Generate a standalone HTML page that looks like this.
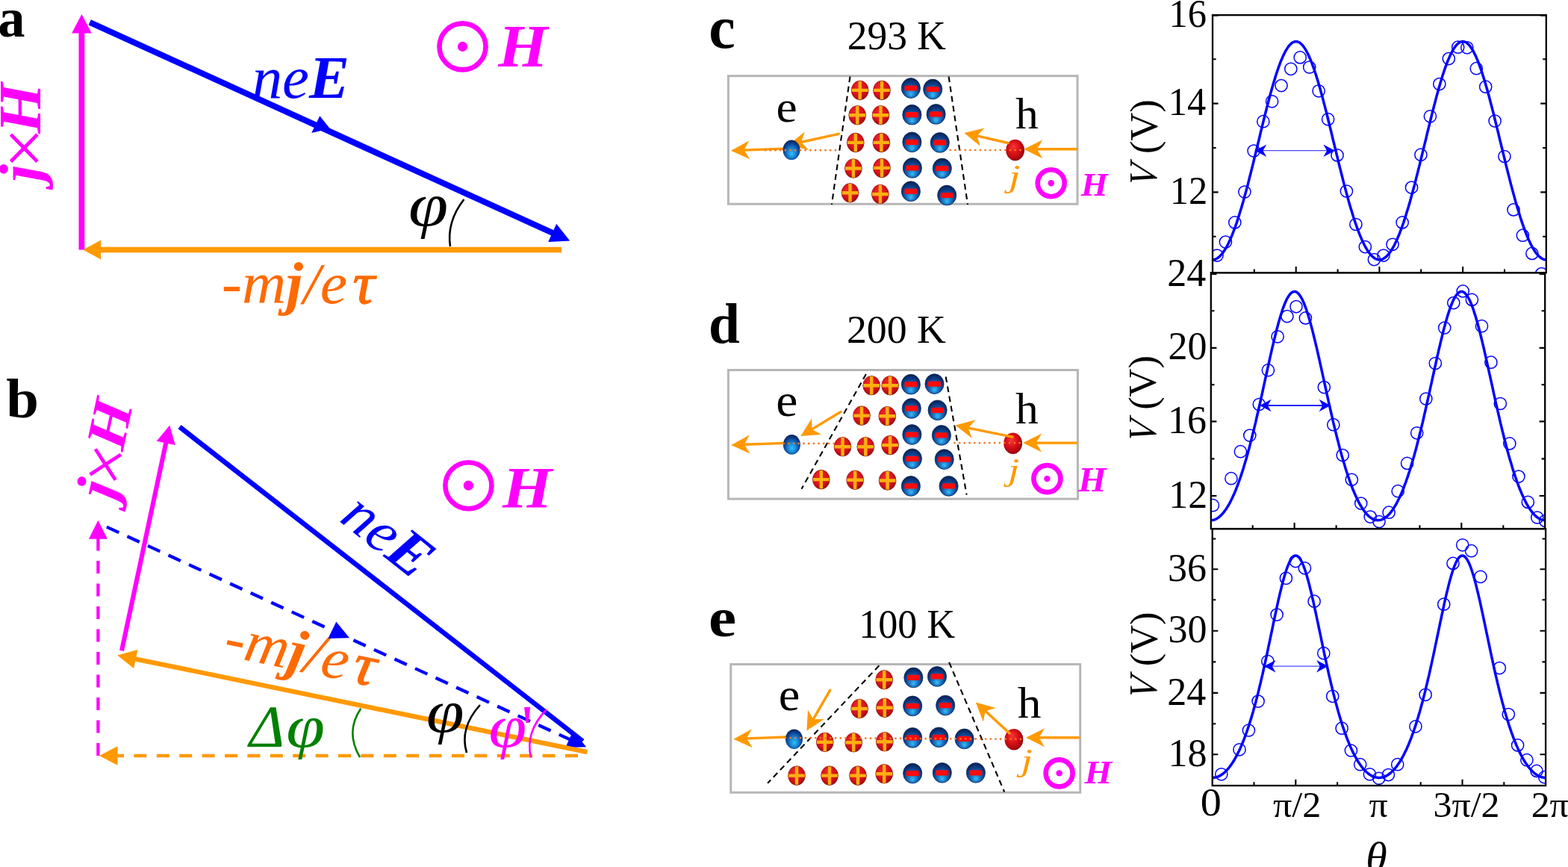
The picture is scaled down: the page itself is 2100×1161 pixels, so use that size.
<!DOCTYPE html>
<html><head><meta charset="utf-8"><title>Figure</title>
<style>html,body{margin:0;padding:0;background:#fff;overflow:hidden}svg{display:block}text{font-family:"Liberation Serif",serif}</style>
</head><body>
<svg width="2100" height="1161" viewBox="0 0 2100 1161">
<rect width="2100" height="1161" fill="#fff"/>
<defs>
<radialGradient id="gr" cx="0.45" cy="0.42" r="0.6" fx="0.4" fy="0.3">
<stop offset="0" stop-color="#ee2a2a"/><stop offset="0.6" stop-color="#dc1420"/><stop offset="0.88" stop-color="#b80c12"/><stop offset="1" stop-color="#8a0808"/></radialGradient>
<radialGradient id="gb" cx="0.5" cy="0.6" r="0.62" fx="0.5" fy="0.82">
<stop offset="0" stop-color="#3cbcf4"/><stop offset="0.3" stop-color="#1c80cc"/><stop offset="0.65" stop-color="#0e4490"/><stop offset="1" stop-color="#071c4c"/></radialGradient>
<radialGradient id="ge" cx="0.5" cy="0.58" r="0.6" fx="0.52" fy="0.7">
<stop offset="0" stop-color="#2cc4ff"/><stop offset="0.4" stop-color="#1a84d4"/><stop offset="0.75" stop-color="#0c4090"/><stop offset="1" stop-color="#071c4c"/></radialGradient>
<radialGradient id="gh" cx="0.45" cy="0.45" r="0.6" fx="0.4" fy="0.32">
<stop offset="0" stop-color="#f83838"/><stop offset="0.5" stop-color="#dc1018"/><stop offset="0.85" stop-color="#a80810"/><stop offset="1" stop-color="#700408"/></radialGradient>
</defs>
<text transform="matrix(0.7253 0 0 0.7417 -2.68 48.86)" font-size="100" fill="#000" font-weight="bold">a</text>
<line x1="109.4" y1="334.5" x2="109.4" y2="43.5" stroke="#ff00ff" stroke-width="7.8"/>
<polygon points="109.4,19.0 122.7,44.5 96.1,44.5" fill="#ff00ff"/>
<line x1="120.2" y1="29.8" x2="740.6" y2="312.2" stroke="#0000ff" stroke-width="8"/>
<polygon points="763.2,322.5 734.2,323.9 745.2,299.7" fill="#0000ff"/>
<polygon points="428.3,155.2 417.2,177.9 441.9,172.2" fill="#0000ff"/>
<line x1="752.0" y1="334.5" x2="134.2" y2="334.5" stroke="#ff9900" stroke-width="7.6"/>
<polygon points="111.2,334.5 135.2,321.5 135.2,347.5" fill="#ff9900"/>
<circle cx="619.5" cy="62.4" r="31" fill="none" stroke="#ff00ff" stroke-width="6.6"/>
<circle cx="619.5" cy="62.4" r="6.6" fill="#ff00ff"/>
<text transform="matrix(0.8519 0 0 0.8000 667.13 88.60)" font-size="100" fill="#ff00ff" font-style="italic" font-weight="bold">H</text>
<text transform="matrix(0.8092 0 0 0.7955 337.67 130.70)" font-size="100" fill="#0000ff" font-style="italic">ne<tspan font-weight="bold">E</tspan></text>
<text transform="matrix(0.9616 0 0 0.8235 547.12 302.01)" font-size="100" fill="#000" font-style="italic">φ</text>
<path d="M621.4,267.0 Q598.0,297.0 603.0,330.0" fill="none" stroke="#000" stroke-width="2.6"/>
<text transform="matrix(0.8197 0 0 0.7845 296.63 405.92)" font-size="100" fill="#ff6a00" font-style="italic">-m<tspan font-weight="bold">j</tspan>/e<tspan dx="9" stroke="#ff6a00" stroke-width="1.6">τ</tspan></text>
<text transform="translate(27.15 143.85) rotate(-90) scale(0.8704 0.8046) translate(-40.00 32.75)" font-size="100" fill="#ff00ff" font-style="italic" font-weight="bold">H</text>
<text transform="translate(31.80 198.15) rotate(-90) scale(0.9753 0.9580) translate(-28.25 33.25)" font-size="100" fill="#ff00ff" >×</text>
<text transform="translate(35.20 237.20) rotate(-90) scale(0.8366 0.7901) translate(-7.50 24.25)" font-size="100" fill="#ff00ff" font-style="italic" font-weight="bold">j</text>
<text transform="matrix(0.7860 0 0 0.7390 8.32 558.76)" font-size="100" fill="#000" font-weight="bold">b</text>
<text transform="translate(404.00 880.00) rotate(11.6) scale(0.8197 0.7845) translate(-128.00 24.25)" font-size="100" fill="#ff6a00" font-style="italic">-m<tspan font-weight="bold">j</tspan>/e<tspan dx="9" stroke="#ff6a00" stroke-width="1.6">τ</tspan></text>
<line x1="163.0" y1="871.4" x2="222.4" y2="592.4" stroke="#ff00ff" stroke-width="6.1"/>
<polygon points="227.3,569.4 234.7,596.0 209.7,590.7" fill="#ff00ff"/>
<line x1="131.4" y1="1012.0" x2="131.4" y2="720.7" stroke="#ff00ff" stroke-width="4.3" stroke-dasharray="17 13.5"/>
<polygon points="131.4,696.7 143.9,721.7 118.9,721.7" fill="#ff00ff"/>
<line x1="142.9" y1="705.6" x2="763.3" y2="990.3" stroke="#0000ff" stroke-width="4.3" stroke-dasharray="18 12.3"/>
<polygon points="785.1,1000.3 757.2,1001.2 767.6,978.5" fill="#0000ff"/>
<polygon points="450.3,832.6 439.4,854.9 468.0,854.3" fill="#0000ff"/>
<line x1="240.5" y1="571.7" x2="780.5" y2="992.5" stroke="#0000ff" stroke-width="6.6"/>
<line x1="786.5" y1="1007.2" x2="180.8" y2="882.3" stroke="#ff9900" stroke-width="6.3"/>
<polygon points="157.1,877.4 184.4,869.9 179.2,895.1" fill="#ff9900"/>
<line x1="774.0" y1="1012.0" x2="156.5" y2="1012.0" stroke="#ff9900" stroke-width="4.3" stroke-dasharray="17 13.4"/>
<polygon points="133.0,1012.0 157.5,999.3 157.5,1024.7" fill="#ff9900"/>
<circle cx="627.4" cy="650.2" r="31" fill="none" stroke="#ff00ff" stroke-width="6.6"/>
<circle cx="627.4" cy="650.2" r="6.6" fill="#ff00ff"/>
<text transform="matrix(0.8531 0 0 0.7817 673.03 678.80)" font-size="100" fill="#ff00ff" font-style="italic" font-weight="bold">H</text>
<text transform="translate(519.60 717.30) rotate(38.5) scale(0.8092 0.7955) translate(-80.00 32.25)" font-size="100" fill="#0000ff" font-style="italic">ne<tspan font-weight="bold">E</tspan></text>
<text transform="translate(354.30 973.95) rotate(0) scale(0.8035 0.7985) translate(-32.75 33.00) skewX(-13)" font-size="100" fill="#008000" >Δ</text>
<text transform="matrix(0.9354 0 0 0.8074 383.19 999.65)" font-size="100" fill="#008000" font-style="italic">φ</text>
<path d="M483.3,948.8 Q462.0,980.0 482.0,1014.0" fill="none" stroke="#008000" stroke-width="2.6"/>
<text transform="matrix(0.9131 0 0 0.8044 571.06 979.51)" font-size="100" fill="#000" font-style="italic">φ</text>
<path d="M642.9,944.0 Q615.0,975.0 625.0,1008.0" fill="none" stroke="#000" stroke-width="2.6"/>
<text transform="matrix(0.9172 0 0 0.8029 654.55 1000.44)" font-size="100" fill="#ff00ff" font-style="italic">φ</text>
<text transform="matrix(0.6400 0 0 0.8936 697.20 1005.03)" font-size="100" fill="#ff00ff" font-weight="bold">'</text>
<path d="M732.0,950.0 Q703.0,980.0 711.0,1014.5" fill="none" stroke="#ff00ff" stroke-width="2.6"/>
<text transform="translate(147.40 567.00) rotate(-78) scale(0.8457 0.7542) translate(-40.00 32.75)" font-size="100" fill="#ff00ff" font-style="italic" font-weight="bold">H</text>
<text transform="translate(141.20 622.00) rotate(-78) scale(0.9383 0.9383) translate(-28.25 33.25)" font-size="100" fill="#ff00ff" >×</text>
<text transform="translate(136.20 661.40) rotate(-78) scale(0.8366 0.7901) translate(-7.50 24.25)" font-size="100" fill="#ff00ff" font-style="italic" font-weight="bold">j</text>
<rect x="975.4" y="101.7" width="467.6" height="171.5" fill="none" stroke="#b6b6b6" stroke-width="3"/>
<line x1="1138.5" y1="102.5" x2="1113.9" y2="273.8" stroke="#000" stroke-width="2.1" stroke-dasharray="7.8 5.4"/>
<line x1="1270.6" y1="102.5" x2="1296.0" y2="273.8" stroke="#000" stroke-width="2.1" stroke-dasharray="7.8 5.4"/>
<line x1="1060.0" y1="198.8" x2="995.5" y2="201.1" stroke="#ff9900" stroke-width="3.4" stroke-linecap="round"/>
<polygon points="979.0,201.7 1003.5,188.3 996.5,201.1 1004.4,213.3" fill="#ff9900"/>
<line x1="1123.3" y1="179.3" x2="1072.1" y2="190.5" stroke="#ff9900" stroke-width="3.4" stroke-linecap="round"/>
<polygon points="1056.0,194.0 1077.8,176.5 1073.1,190.3 1083.1,200.9" fill="#ff9900"/>
<line x1="1442.0" y1="199.8" x2="1387.8" y2="199.8" stroke="#ff9900" stroke-width="3.4" stroke-linecap="round"/>
<polygon points="1371.3,199.8 1396.3,187.3 1388.8,199.8 1396.3,212.3" fill="#ff9900"/>
<ellipse cx="1151.7" cy="120.9" rx="11.4" ry="12.8" fill="url(#gr)" stroke="#8c1410" stroke-width="0.7"/>
<path d="M1140.9,120.9H1162.5M1151.7,108.7V133.1" stroke="#ffb010" stroke-width="4.4" fill="none"/>
<ellipse cx="1181.0" cy="120.9" rx="11.4" ry="12.8" fill="url(#gr)" stroke="#8c1410" stroke-width="0.7"/>
<path d="M1170.2,120.9H1191.8M1181.0,108.7V133.1" stroke="#ffb010" stroke-width="4.4" fill="none"/>
<ellipse cx="1148.2" cy="154.3" rx="11.4" ry="12.8" fill="url(#gr)" stroke="#8c1410" stroke-width="0.7"/>
<path d="M1137.4,154.3H1159.0M1148.2,142.1V166.5" stroke="#ffb010" stroke-width="4.4" fill="none"/>
<ellipse cx="1179.5" cy="154.3" rx="11.4" ry="12.8" fill="url(#gr)" stroke="#8c1410" stroke-width="0.7"/>
<path d="M1168.7,154.3H1190.3M1179.5,142.1V166.5" stroke="#ffb010" stroke-width="4.4" fill="none"/>
<ellipse cx="1145.8" cy="190.9" rx="11.4" ry="12.8" fill="url(#gr)" stroke="#8c1410" stroke-width="0.7"/>
<path d="M1135.0,190.9H1156.6M1145.8,178.7V203.1" stroke="#ffb010" stroke-width="4.4" fill="none"/>
<ellipse cx="1180.4" cy="190.9" rx="11.4" ry="12.8" fill="url(#gr)" stroke="#8c1410" stroke-width="0.7"/>
<path d="M1169.6,190.9H1191.2M1180.4,178.7V203.1" stroke="#ffb010" stroke-width="4.4" fill="none"/>
<ellipse cx="1142.9" cy="225.5" rx="11.4" ry="12.8" fill="url(#gr)" stroke="#8c1410" stroke-width="0.7"/>
<path d="M1132.1,225.5H1153.7M1142.9,213.3V237.7" stroke="#ffb010" stroke-width="4.4" fill="none"/>
<ellipse cx="1181.0" cy="224.9" rx="11.4" ry="12.8" fill="url(#gr)" stroke="#8c1410" stroke-width="0.7"/>
<path d="M1170.2,224.9H1191.8M1181.0,212.7V237.1" stroke="#ffb010" stroke-width="4.4" fill="none"/>
<ellipse cx="1138.5" cy="258.3" rx="11.4" ry="12.8" fill="url(#gr)" stroke="#8c1410" stroke-width="0.7"/>
<path d="M1127.7,258.3H1149.3M1138.5,246.1V270.5" stroke="#ffb010" stroke-width="4.4" fill="none"/>
<ellipse cx="1178.9" cy="260.0" rx="11.4" ry="12.8" fill="url(#gr)" stroke="#8c1410" stroke-width="0.7"/>
<path d="M1168.1,260.0H1189.7M1178.9,247.8V272.2" stroke="#ffb010" stroke-width="4.4" fill="none"/>
<ellipse cx="1219.9" cy="118.0" rx="12.6" ry="13.4" fill="url(#gb)" stroke="#0a2358" stroke-width="0.7"/>
<rect x="1211.4" y="114.4" width="17" height="7.2" rx="1.5" fill="#ff0a0a"/>
<ellipse cx="1249.2" cy="119.5" rx="12.6" ry="13.4" fill="url(#gb)" stroke="#0a2358" stroke-width="0.7"/>
<rect x="1240.7" y="115.9" width="17" height="7.2" rx="1.5" fill="#ff0a0a"/>
<ellipse cx="1221.4" cy="153.7" rx="12.6" ry="13.4" fill="url(#gb)" stroke="#0a2358" stroke-width="0.7"/>
<rect x="1212.9" y="150.1" width="17" height="7.2" rx="1.5" fill="#ff0a0a"/>
<ellipse cx="1253.6" cy="152.9" rx="12.6" ry="13.4" fill="url(#gb)" stroke="#0a2358" stroke-width="0.7"/>
<rect x="1245.1" y="149.3" width="17" height="7.2" rx="1.5" fill="#ff0a0a"/>
<ellipse cx="1221.4" cy="190.3" rx="12.6" ry="13.4" fill="url(#gb)" stroke="#0a2358" stroke-width="0.7"/>
<rect x="1212.9" y="186.7" width="17" height="7.2" rx="1.5" fill="#ff0a0a"/>
<ellipse cx="1258.8" cy="190.9" rx="12.6" ry="13.4" fill="url(#gb)" stroke="#0a2358" stroke-width="0.7"/>
<rect x="1250.3" y="187.3" width="17" height="7.2" rx="1.5" fill="#ff0a0a"/>
<ellipse cx="1221.9" cy="224.9" rx="12.6" ry="13.4" fill="url(#gb)" stroke="#0a2358" stroke-width="0.7"/>
<rect x="1213.4" y="221.3" width="17" height="7.2" rx="1.5" fill="#ff0a0a"/>
<ellipse cx="1261.8" cy="225.5" rx="12.6" ry="13.4" fill="url(#gb)" stroke="#0a2358" stroke-width="0.7"/>
<rect x="1253.3" y="221.9" width="17" height="7.2" rx="1.5" fill="#ff0a0a"/>
<ellipse cx="1219.9" cy="256.2" rx="12.6" ry="13.4" fill="url(#gb)" stroke="#0a2358" stroke-width="0.7"/>
<rect x="1211.4" y="252.6" width="17" height="7.2" rx="1.5" fill="#ff0a0a"/>
<ellipse cx="1268.2" cy="261.5" rx="12.6" ry="13.4" fill="url(#gb)" stroke="#0a2358" stroke-width="0.7"/>
<rect x="1259.7" y="257.9" width="17" height="7.2" rx="1.5" fill="#ff0a0a"/>
<ellipse cx="1060.0" cy="200.8" rx="11.5" ry="13.3" fill="url(#ge)"/>
<ellipse cx="1359.6" cy="201.0" rx="12.4" ry="14.3" fill="url(#gh)"/>
<line x1="1350.0" y1="191.5" x2="1307.4" y2="181.7" stroke="#ff9900" stroke-width="3.4" stroke-linecap="round"/>
<polygon points="1291.3,178.0 1318.5,171.4 1308.4,181.9 1312.9,195.8" fill="#ff9900"/>
<line x1="1025.0" y1="201.2" x2="1124.2" y2="201.2" stroke="#f47820" stroke-width="2.7" stroke-dasharray="0.1 6.6" stroke-linecap="round"/>
<line x1="1272.6" y1="201.0" x2="1370.0" y2="201.0" stroke="#f47820" stroke-width="2.7" stroke-dasharray="0.1 6.6" stroke-linecap="round"/>
<text transform="matrix(0.8000 0 0 0.8042 949.30 64.20)" font-size="100" fill="#000" font-weight="bold">c</text>
<text transform="matrix(0.5346 0 0 0.5537 1134.69 65.85)" font-size="100" fill="#000" >293 K</text>
<text transform="matrix(0.6351 0 0 0.5875 1039.46 162.61)" font-size="100" fill="#000" >e</text>
<text transform="matrix(0.6147 0 0 0.5813 1359.89 172.20)" font-size="100" fill="#000" >h</text>
<text transform="matrix(0.5611 0 0 0.4253 1350.89 250.27)" font-size="100" fill="#ff9900" font-style="italic">j</text>
<circle cx="1407.7" cy="245.2" r="18" fill="none" stroke="#ff00ff" stroke-width="6.6"/>
<circle cx="1407.7" cy="245.2" r="4.2" fill="#ff00ff"/>
<text transform="matrix(0.4630 0 0 0.4351 1447.73 261.50)" font-size="100" fill="#ff00ff" font-style="italic" font-weight="bold">H</text>
<rect x="975.4" y="495.5" width="468.0" height="172.6" fill="none" stroke="#b6b6b6" stroke-width="3"/>
<line x1="1159.9" y1="500.9" x2="1073.5" y2="654.7" stroke="#000" stroke-width="2.1" stroke-dasharray="7.8 5.4"/>
<line x1="1266.7" y1="504.5" x2="1294.6" y2="662.6" stroke="#000" stroke-width="2.1" stroke-dasharray="7.8 5.4"/>
<line x1="1060.0" y1="593.0" x2="995.8" y2="595.3" stroke="#ff9900" stroke-width="3.4" stroke-linecap="round"/>
<polygon points="979.3,595.9 1003.8,582.5 996.8,595.3 1004.7,607.5" fill="#ff9900"/>
<line x1="1126.0" y1="551.5" x2="1086.4" y2="575.4" stroke="#ff9900" stroke-width="3.4" stroke-linecap="round"/>
<polygon points="1072.3,583.9 1087.2,560.3 1087.3,574.9 1100.2,581.7" fill="#ff9900"/>
<line x1="1442.0" y1="593.1" x2="1386.6" y2="593.1" stroke="#ff9900" stroke-width="3.4" stroke-linecap="round"/>
<polygon points="1370.1,593.1 1395.1,580.6 1387.6,593.1 1395.1,605.6" fill="#ff9900"/>
<ellipse cx="1167.2" cy="516.2" rx="11.4" ry="12.8" fill="url(#gr)" stroke="#8c1410" stroke-width="0.7"/>
<path d="M1156.4,516.2H1178.0M1167.2,504.0V528.4" stroke="#ffb010" stroke-width="4.4" fill="none"/>
<ellipse cx="1192.1" cy="516.2" rx="11.4" ry="12.8" fill="url(#gr)" stroke="#8c1410" stroke-width="0.7"/>
<path d="M1181.3,516.2H1202.9M1192.1,504.0V528.4" stroke="#ffb010" stroke-width="4.4" fill="none"/>
<ellipse cx="1154.0" cy="556.6" rx="11.4" ry="12.8" fill="url(#gr)" stroke="#8c1410" stroke-width="0.7"/>
<path d="M1143.2,556.6H1164.8M1154.0,544.4V568.8" stroke="#ffb010" stroke-width="4.4" fill="none"/>
<ellipse cx="1188.3" cy="557.2" rx="11.4" ry="12.8" fill="url(#gr)" stroke="#8c1410" stroke-width="0.7"/>
<path d="M1177.5,557.2H1199.1M1188.3,545.0V569.4" stroke="#ffb010" stroke-width="4.4" fill="none"/>
<ellipse cx="1128.5" cy="598.2" rx="11.4" ry="12.8" fill="url(#gr)" stroke="#8c1410" stroke-width="0.7"/>
<path d="M1117.7,598.2H1139.3M1128.5,586.0V610.4" stroke="#ffb010" stroke-width="4.4" fill="none"/>
<ellipse cx="1159.3" cy="598.2" rx="11.4" ry="12.8" fill="url(#gr)" stroke="#8c1410" stroke-width="0.7"/>
<path d="M1148.5,598.2H1170.1M1159.3,586.0V610.4" stroke="#ffb010" stroke-width="4.4" fill="none"/>
<ellipse cx="1192.1" cy="596.1" rx="11.4" ry="12.8" fill="url(#gr)" stroke="#8c1410" stroke-width="0.7"/>
<path d="M1181.3,596.1H1202.9M1192.1,583.9V608.3" stroke="#ffb010" stroke-width="4.4" fill="none"/>
<ellipse cx="1099.8" cy="642.1" rx="11.4" ry="12.8" fill="url(#gr)" stroke="#8c1410" stroke-width="0.7"/>
<path d="M1089.0,642.1H1110.6M1099.8,629.9V654.3" stroke="#ffb010" stroke-width="4.4" fill="none"/>
<ellipse cx="1145.2" cy="642.7" rx="11.4" ry="12.8" fill="url(#gr)" stroke="#8c1410" stroke-width="0.7"/>
<path d="M1134.4,642.7H1156.0M1145.2,630.5V654.9" stroke="#ffb010" stroke-width="4.4" fill="none"/>
<ellipse cx="1188.6" cy="643.5" rx="11.4" ry="12.8" fill="url(#gr)" stroke="#8c1410" stroke-width="0.7"/>
<path d="M1177.8,643.5H1199.4M1188.6,631.3V655.7" stroke="#ffb010" stroke-width="4.4" fill="none"/>
<ellipse cx="1219.9" cy="514.7" rx="12.6" ry="13.4" fill="url(#gb)" stroke="#0a2358" stroke-width="0.7"/>
<rect x="1211.4" y="511.1" width="17" height="7.2" rx="1.5" fill="#ff0a0a"/>
<ellipse cx="1251.5" cy="514.1" rx="12.6" ry="13.4" fill="url(#gb)" stroke="#0a2358" stroke-width="0.7"/>
<rect x="1243.0" y="510.5" width="17" height="7.2" rx="1.5" fill="#ff0a0a"/>
<ellipse cx="1220.8" cy="546.9" rx="12.6" ry="13.4" fill="url(#gb)" stroke="#0a2358" stroke-width="0.7"/>
<rect x="1212.3" y="543.3" width="17" height="7.2" rx="1.5" fill="#ff0a0a"/>
<ellipse cx="1255.6" cy="549.3" rx="12.6" ry="13.4" fill="url(#gb)" stroke="#0a2358" stroke-width="0.7"/>
<rect x="1247.1" y="545.7" width="17" height="7.2" rx="1.5" fill="#ff0a0a"/>
<ellipse cx="1221.4" cy="582.0" rx="12.6" ry="13.4" fill="url(#gb)" stroke="#0a2358" stroke-width="0.7"/>
<rect x="1212.9" y="578.4" width="17" height="7.2" rx="1.5" fill="#ff0a0a"/>
<ellipse cx="1260.9" cy="582.9" rx="12.6" ry="13.4" fill="url(#gb)" stroke="#0a2358" stroke-width="0.7"/>
<rect x="1252.4" y="579.3" width="17" height="7.2" rx="1.5" fill="#ff0a0a"/>
<ellipse cx="1221.9" cy="614.3" rx="12.6" ry="13.4" fill="url(#gb)" stroke="#0a2358" stroke-width="0.7"/>
<rect x="1213.4" y="610.7" width="17" height="7.2" rx="1.5" fill="#ff0a0a"/>
<ellipse cx="1264.7" cy="615.1" rx="12.6" ry="13.4" fill="url(#gb)" stroke="#0a2358" stroke-width="0.7"/>
<rect x="1256.2" y="611.5" width="17" height="7.2" rx="1.5" fill="#ff0a0a"/>
<ellipse cx="1219.9" cy="650.9" rx="12.6" ry="13.4" fill="url(#gb)" stroke="#0a2358" stroke-width="0.7"/>
<rect x="1211.4" y="647.3" width="17" height="7.2" rx="1.5" fill="#ff0a0a"/>
<ellipse cx="1270.6" cy="650.9" rx="12.6" ry="13.4" fill="url(#gb)" stroke="#0a2358" stroke-width="0.7"/>
<rect x="1262.1" y="647.3" width="17" height="7.2" rx="1.5" fill="#ff0a0a"/>
<ellipse cx="1060.4" cy="595.4" rx="11.5" ry="13.3" fill="url(#ge)"/>
<ellipse cx="1356.6" cy="593.7" rx="12.4" ry="14.3" fill="url(#gh)"/>
<line x1="1356.2" y1="585.2" x2="1295.8" y2="572.8" stroke="#ff9900" stroke-width="3.4" stroke-linecap="round"/>
<polygon points="1279.6,569.5 1306.6,562.3 1296.7,573.0 1301.6,586.8" fill="#ff9900"/>
<line x1="1049.6" y1="593.9" x2="1118.8" y2="593.9" stroke="#f47820" stroke-width="2.7" stroke-dasharray="0.1 6.6" stroke-linecap="round"/>
<line x1="1278.4" y1="593.1" x2="1368.0" y2="593.1" stroke="#f47820" stroke-width="2.7" stroke-dasharray="0.1 6.6" stroke-linecap="round"/>
<text transform="matrix(0.7525 0 0 0.7532 948.99 458.75)" font-size="100" fill="#000" font-weight="bold">d</text>
<text transform="matrix(0.5375 0 0 0.5333 1133.98 459.47)" font-size="100" fill="#000" >200 K</text>
<text transform="matrix(0.6568 0 0 0.6021 1039.17 557.10)" font-size="100" fill="#000" >e</text>
<text transform="matrix(0.6147 0 0 0.5871 1359.89 567.20)" font-size="100" fill="#000" >h</text>
<text transform="matrix(0.5528 0 0 0.4299 1350.00 642.57)" font-size="100" fill="#ff9900" font-style="italic">j</text>
<circle cx="1402.4" cy="641.1" r="18" fill="none" stroke="#ff00ff" stroke-width="6.6"/>
<circle cx="1402.4" cy="641.1" r="4.2" fill="#ff00ff"/>
<text transform="matrix(0.4840 0 0 0.4611 1443.94 657.60)" font-size="100" fill="#ff00ff" font-style="italic" font-weight="bold">H</text>
<rect x="978.8" y="889.5" width="467.9" height="171.7" fill="none" stroke="#b6b6b6" stroke-width="3"/>
<line x1="1177.4" y1="891.3" x2="1028.1" y2="1048.8" stroke="#000" stroke-width="2.1" stroke-dasharray="7.8 5.4"/>
<line x1="1271.1" y1="886.9" x2="1345.2" y2="1060.5" stroke="#000" stroke-width="2.1" stroke-dasharray="7.8 5.4"/>
<line x1="1063.0" y1="986.5" x2="998.9" y2="989.0" stroke="#ff9900" stroke-width="3.4" stroke-linecap="round"/>
<polygon points="982.4,989.7 1006.9,976.2 999.9,989.0 1007.9,1001.2" fill="#ff9900"/>
<line x1="1111.6" y1="924.3" x2="1088.6" y2="964.2" stroke="#ff9900" stroke-width="3.4" stroke-linecap="round"/>
<polygon points="1080.4,978.5 1082.0,950.6 1089.1,963.3 1103.7,963.1" fill="#ff9900"/>
<line x1="1445.0" y1="987.8" x2="1390.5" y2="987.8" stroke="#ff9900" stroke-width="3.4" stroke-linecap="round"/>
<polygon points="1374.0,987.8 1399.0,975.3 1391.5,987.8 1399.0,1000.3" fill="#ff9900"/>
<ellipse cx="1184.2" cy="910.3" rx="11.4" ry="12.8" fill="url(#gr)" stroke="#8c1410" stroke-width="0.7"/>
<path d="M1173.4,910.3H1195.0M1184.2,898.1V922.5" stroke="#ffb010" stroke-width="4.4" fill="none"/>
<ellipse cx="1151.1" cy="949.0" rx="11.4" ry="12.8" fill="url(#gr)" stroke="#8c1410" stroke-width="0.7"/>
<path d="M1140.3,949.0H1161.9M1151.1,936.8V961.2" stroke="#ffb010" stroke-width="4.4" fill="none"/>
<ellipse cx="1184.8" cy="947.8" rx="11.4" ry="12.8" fill="url(#gr)" stroke="#8c1410" stroke-width="0.7"/>
<path d="M1174.0,947.8H1195.6M1184.8,935.6V960.0" stroke="#ffb010" stroke-width="4.4" fill="none"/>
<ellipse cx="1104.8" cy="993.8" rx="11.4" ry="12.8" fill="url(#gr)" stroke="#8c1410" stroke-width="0.7"/>
<path d="M1094.0,993.8H1115.6M1104.8,981.6V1006.0" stroke="#ffb010" stroke-width="4.4" fill="none"/>
<ellipse cx="1143.2" cy="994.3" rx="11.4" ry="12.8" fill="url(#gr)" stroke="#8c1410" stroke-width="0.7"/>
<path d="M1132.4,994.3H1154.0M1143.2,982.1V1006.5" stroke="#ffb010" stroke-width="4.4" fill="none"/>
<ellipse cx="1184.8" cy="993.2" rx="11.4" ry="12.8" fill="url(#gr)" stroke="#8c1410" stroke-width="0.7"/>
<path d="M1174.0,993.2H1195.6M1184.8,981.0V1005.4" stroke="#ffb010" stroke-width="4.4" fill="none"/>
<ellipse cx="1067.0" cy="1038.6" rx="11.4" ry="12.8" fill="url(#gr)" stroke="#8c1410" stroke-width="0.7"/>
<path d="M1056.2,1038.6H1077.8M1067.0,1026.4V1050.8" stroke="#ffb010" stroke-width="4.4" fill="none"/>
<ellipse cx="1111.0" cy="1038.6" rx="11.4" ry="12.8" fill="url(#gr)" stroke="#8c1410" stroke-width="0.7"/>
<path d="M1100.2,1038.6H1121.8M1111.0,1026.4V1050.8" stroke="#ffb010" stroke-width="4.4" fill="none"/>
<ellipse cx="1149.0" cy="1038.6" rx="11.4" ry="12.8" fill="url(#gr)" stroke="#8c1410" stroke-width="0.7"/>
<path d="M1138.2,1038.6H1159.8M1149.0,1026.4V1050.8" stroke="#ffb010" stroke-width="4.4" fill="none"/>
<ellipse cx="1184.2" cy="1036.2" rx="11.4" ry="12.8" fill="url(#gr)" stroke="#8c1410" stroke-width="0.7"/>
<path d="M1173.4,1036.2H1195.0M1184.2,1024.0V1048.4" stroke="#ffb010" stroke-width="4.4" fill="none"/>
<ellipse cx="1223.4" cy="907.4" rx="12.6" ry="13.4" fill="url(#gb)" stroke="#0a2358" stroke-width="0.7"/>
<rect x="1214.9" y="903.8" width="17" height="7.2" rx="1.5" fill="#ff0a0a"/>
<ellipse cx="1255.0" cy="905.9" rx="12.6" ry="13.4" fill="url(#gb)" stroke="#0a2358" stroke-width="0.7"/>
<rect x="1246.5" y="902.3" width="17" height="7.2" rx="1.5" fill="#ff0a0a"/>
<ellipse cx="1222.2" cy="945.4" rx="12.6" ry="13.4" fill="url(#gb)" stroke="#0a2358" stroke-width="0.7"/>
<rect x="1213.7" y="941.8" width="17" height="7.2" rx="1.5" fill="#ff0a0a"/>
<ellipse cx="1266.2" cy="944.6" rx="12.6" ry="13.4" fill="url(#gb)" stroke="#0a2358" stroke-width="0.7"/>
<rect x="1257.7" y="941.0" width="17" height="7.2" rx="1.5" fill="#ff0a0a"/>
<ellipse cx="1222.2" cy="987.9" rx="12.6" ry="13.4" fill="url(#gb)" stroke="#0a2358" stroke-width="0.7"/>
<rect x="1213.7" y="984.3" width="17" height="7.2" rx="1.5" fill="#ff0a0a"/>
<ellipse cx="1257.4" cy="987.3" rx="12.6" ry="13.4" fill="url(#gb)" stroke="#0a2358" stroke-width="0.7"/>
<rect x="1248.9" y="983.7" width="17" height="7.2" rx="1.5" fill="#ff0a0a"/>
<ellipse cx="1291.6" cy="989.4" rx="12.6" ry="13.4" fill="url(#gb)" stroke="#0a2358" stroke-width="0.7"/>
<rect x="1283.1" y="985.8" width="17" height="7.2" rx="1.5" fill="#ff0a0a"/>
<ellipse cx="1222.2" cy="1035.6" rx="12.6" ry="13.4" fill="url(#gb)" stroke="#0a2358" stroke-width="0.7"/>
<rect x="1213.7" y="1032.0" width="17" height="7.2" rx="1.5" fill="#ff0a0a"/>
<ellipse cx="1261.8" cy="1034.8" rx="12.6" ry="13.4" fill="url(#gb)" stroke="#0a2358" stroke-width="0.7"/>
<rect x="1253.3" y="1031.2" width="17" height="7.2" rx="1.5" fill="#ff0a0a"/>
<ellipse cx="1306.9" cy="1034.8" rx="12.6" ry="13.4" fill="url(#gb)" stroke="#0a2358" stroke-width="0.7"/>
<rect x="1298.4" y="1031.2" width="17" height="7.2" rx="1.5" fill="#ff0a0a"/>
<ellipse cx="1063.5" cy="989.7" rx="11.5" ry="13.3" fill="url(#ge)"/>
<ellipse cx="1357.9" cy="990.2" rx="12.4" ry="14.3" fill="url(#gh)"/>
<line x1="1352.1" y1="982.0" x2="1319.0" y2="951.6" stroke="#ff9900" stroke-width="3.4" stroke-linecap="round"/>
<polygon points="1306.8,940.4 1333.7,948.1 1319.7,952.2 1316.8,966.5" fill="#ff9900"/>
<line x1="1052.0" y1="988.0" x2="1370.0" y2="989.8" stroke="#f47820" stroke-width="2.7" stroke-dasharray="0.1 6.6" stroke-linecap="round"/>
<text transform="matrix(0.8364 0 0 0.7500 949.07 851.85)" font-size="100" fill="#000" font-weight="bold">e</text>
<text transform="matrix(0.5215 0 0 0.5437 1150.21 853.66)" font-size="100" fill="#000" >100 K</text>
<text transform="matrix(0.6432 0 0 0.6146 1042.83 951.09)" font-size="100" fill="#000" >e</text>
<text transform="matrix(0.6337 0 0 0.5856 1362.77 960.70)" font-size="100" fill="#000" >h</text>
<text transform="matrix(0.5583 0 0 0.4310 1367.56 1032.45)" font-size="100" fill="#ff9900" font-style="italic">j</text>
<circle cx="1418.6" cy="1035.4" r="18" fill="none" stroke="#ff00ff" stroke-width="6.6"/>
<circle cx="1418.6" cy="1035.4" r="4.2" fill="#ff00ff"/>
<text transform="matrix(0.4704 0 0 0.4443 1452.44 1049.20)" font-size="100" fill="#ff00ff" font-style="italic" font-weight="bold">H</text>
<path d="M1624.0,347.8 L1625.2,347.7 L1626.5,347.5 L1627.7,347.1 L1629.0,346.6 L1630.2,345.9 L1631.4,345.0 L1632.7,344.1 L1633.9,342.9 L1635.2,341.6 L1636.4,340.2 L1637.7,338.6 L1638.9,336.8 L1640.1,335.0 L1641.4,332.9 L1642.6,330.8 L1643.9,328.5 L1645.1,326.0 L1646.3,323.4 L1647.6,320.7 L1648.8,317.9 L1650.1,314.9 L1651.3,311.8 L1652.5,308.5 L1653.8,305.2 L1655.0,301.7 L1656.3,298.1 L1657.5,294.4 L1658.8,290.5 L1660.0,286.6 L1661.2,282.6 L1662.5,278.4 L1663.7,274.2 L1665.0,269.9 L1666.2,265.5 L1667.4,261.0 L1668.7,256.4 L1669.9,251.8 L1671.2,247.1 L1672.4,242.3 L1673.6,237.4 L1674.9,232.5 L1676.1,227.6 L1677.4,222.6 L1678.6,217.6 L1679.8,212.5 L1681.1,207.4 L1682.3,202.3 L1683.6,197.2 L1684.8,192.1 L1686.1,187.0 L1687.3,181.8 L1688.5,176.7 L1689.8,171.6 L1691.0,166.6 L1692.3,161.5 L1693.5,156.5 L1694.7,151.6 L1696.0,146.7 L1697.2,141.9 L1698.5,137.1 L1699.7,132.4 L1700.9,127.8 L1702.2,123.2 L1703.4,118.8 L1704.7,114.5 L1705.9,110.2 L1707.2,106.1 L1708.4,102.1 L1709.6,98.3 L1710.9,94.5 L1712.1,90.9 L1713.4,87.5 L1714.6,84.2 L1715.8,81.0 L1717.1,78.1 L1718.3,75.3 L1719.6,72.6 L1720.8,70.2 L1722.0,67.9 L1723.3,65.8 L1724.5,63.9 L1725.8,62.1 L1727.0,60.6 L1728.3,59.3 L1729.5,58.2 L1730.7,57.2 L1732.0,56.5 L1733.2,56.0 L1734.5,55.7 L1735.7,55.6 L1736.9,55.7 L1738.2,56.0 L1739.4,56.5 L1740.7,57.2 L1741.9,58.2 L1743.1,59.3 L1744.4,60.6 L1745.6,62.1 L1746.9,63.9 L1748.1,65.8 L1749.4,67.9 L1750.6,70.2 L1751.8,72.6 L1753.1,75.3 L1754.3,78.1 L1755.6,81.0 L1756.8,84.2 L1758.0,87.5 L1759.3,90.9 L1760.5,94.5 L1761.8,98.3 L1763.0,102.1 L1764.2,106.1 L1765.5,110.2 L1766.7,114.5 L1768.0,118.8 L1769.2,123.2 L1770.5,127.8 L1771.7,132.4 L1772.9,137.1 L1774.2,141.9 L1775.4,146.7 L1776.7,151.6 L1777.9,156.5 L1779.1,161.5 L1780.4,166.6 L1781.6,171.6 L1782.9,176.7 L1784.1,181.8 L1785.3,187.0 L1786.6,192.1 L1787.8,197.2 L1789.1,202.3 L1790.3,207.4 L1791.6,212.5 L1792.8,217.6 L1794.0,222.6 L1795.3,227.6 L1796.5,232.5 L1797.8,237.4 L1799.0,242.3 L1800.2,247.1 L1801.5,251.8 L1802.7,256.4 L1804.0,261.0 L1805.2,265.5 L1806.4,269.9 L1807.7,274.2 L1808.9,278.4 L1810.2,282.6 L1811.4,286.6 L1812.6,290.5 L1813.9,294.4 L1815.1,298.1 L1816.4,301.7 L1817.6,305.2 L1818.9,308.5 L1820.1,311.8 L1821.3,314.9 L1822.6,317.9 L1823.8,320.7 L1825.1,323.4 L1826.3,326.0 L1827.5,328.5 L1828.8,330.8 L1830.0,332.9 L1831.3,335.0 L1832.5,336.8 L1833.7,338.6 L1835.0,340.2 L1836.2,341.6 L1837.5,342.9 L1838.7,344.1 L1840.0,345.0 L1841.2,345.9 L1842.4,346.6 L1843.7,347.1 L1844.9,347.5 L1846.2,347.7 L1847.4,347.8 L1848.6,347.7 L1849.9,347.5 L1851.1,347.1 L1852.4,346.6 L1853.6,345.9 L1854.8,345.0 L1856.1,344.1 L1857.3,342.9 L1858.6,341.6 L1859.8,340.2 L1861.1,338.6 L1862.3,336.8 L1863.5,335.0 L1864.8,332.9 L1866.0,330.8 L1867.3,328.5 L1868.5,326.0 L1869.7,323.4 L1871.0,320.7 L1872.2,317.9 L1873.5,314.9 L1874.7,311.8 L1875.9,308.5 L1877.2,305.2 L1878.4,301.7 L1879.7,298.1 L1880.9,294.4 L1882.2,290.5 L1883.4,286.6 L1884.6,282.6 L1885.9,278.4 L1887.1,274.2 L1888.4,269.9 L1889.6,265.5 L1890.8,261.0 L1892.1,256.4 L1893.3,251.8 L1894.6,247.1 L1895.8,242.3 L1897.0,237.4 L1898.3,232.5 L1899.5,227.6 L1900.8,222.6 L1902.0,217.6 L1903.2,212.5 L1904.5,207.4 L1905.7,202.3 L1907.0,197.2 L1908.2,192.1 L1909.5,187.0 L1910.7,181.8 L1911.9,176.7 L1913.2,171.6 L1914.4,166.6 L1915.7,161.5 L1916.9,156.5 L1918.1,151.6 L1919.4,146.7 L1920.6,141.9 L1921.9,137.1 L1923.1,132.4 L1924.3,127.8 L1925.6,123.2 L1926.8,118.8 L1928.1,114.5 L1929.3,110.2 L1930.6,106.1 L1931.8,102.1 L1933.0,98.3 L1934.3,94.5 L1935.5,90.9 L1936.8,87.5 L1938.0,84.2 L1939.2,81.0 L1940.5,78.1 L1941.7,75.3 L1943.0,72.6 L1944.2,70.2 L1945.4,67.9 L1946.7,65.8 L1947.9,63.9 L1949.2,62.1 L1950.4,60.6 L1951.7,59.3 L1952.9,58.2 L1954.1,57.2 L1955.4,56.5 L1956.6,56.0 L1957.9,55.7 L1959.1,55.6 L1960.3,55.7 L1961.6,56.0 L1962.8,56.5 L1964.1,57.2 L1965.3,58.2 L1966.5,59.3 L1967.8,60.6 L1969.0,62.1 L1970.3,63.9 L1971.5,65.8 L1972.8,67.9 L1974.0,70.2 L1975.2,72.6 L1976.5,75.3 L1977.7,78.1 L1979.0,81.0 L1980.2,84.2 L1981.4,87.5 L1982.7,90.9 L1983.9,94.5 L1985.2,98.3 L1986.4,102.1 L1987.6,106.1 L1988.9,110.2 L1990.1,114.5 L1991.4,118.8 L1992.6,123.2 L1993.9,127.8 L1995.1,132.4 L1996.3,137.1 L1997.6,141.9 L1998.8,146.7 L2000.1,151.6 L2001.3,156.5 L2002.5,161.5 L2003.8,166.6 L2005.0,171.6 L2006.3,176.7 L2007.5,181.8 L2008.7,187.0 L2010.0,192.1 L2011.2,197.2 L2012.5,202.3 L2013.7,207.4 L2015.0,212.5 L2016.2,217.6 L2017.4,222.6 L2018.7,227.6 L2019.9,232.5 L2021.2,237.4 L2022.4,242.3 L2023.6,247.1 L2024.9,251.8 L2026.1,256.4 L2027.4,261.0 L2028.6,265.5 L2029.8,269.9 L2031.1,274.2 L2032.3,278.4 L2033.6,282.6 L2034.8,286.6 L2036.0,290.5 L2037.3,294.4 L2038.5,298.1 L2039.8,301.7 L2041.0,305.2 L2042.3,308.5 L2043.5,311.8 L2044.7,314.9 L2046.0,317.9 L2047.2,320.7 L2048.5,323.4 L2049.7,326.0 L2050.9,328.5 L2052.2,330.8 L2053.4,332.9 L2054.7,335.0 L2055.9,336.8 L2057.1,338.6 L2058.4,340.2 L2059.6,341.6 L2060.9,342.9 L2062.1,344.1 L2063.4,345.0 L2064.6,345.9 L2065.8,346.6 L2067.1,347.1 L2068.3,347.5 L2069.6,347.7 L2070.8,347.8" fill="none" stroke="#0000ff" stroke-width="3.5" stroke-linejoin="round"/>
<clipPath id="cp20"><rect x="1624.0" y="20.2" width="446.8" height="345.0"/></clipPath><g clip-path="url(#cp20)">
<circle cx="1630.0" cy="342.1" r="8.1" fill="none" stroke="#0000ff" stroke-width="1.5"/>
<circle cx="1641.4" cy="324.1" r="8.1" fill="none" stroke="#0000ff" stroke-width="1.5"/>
<circle cx="1653.8" cy="297.9" r="8.1" fill="none" stroke="#0000ff" stroke-width="1.5"/>
<circle cx="1666.9" cy="257.0" r="8.1" fill="none" stroke="#0000ff" stroke-width="1.5"/>
<circle cx="1679.1" cy="202.0" r="8.1" fill="none" stroke="#0000ff" stroke-width="1.5"/>
<circle cx="1691.8" cy="162.7" r="8.1" fill="none" stroke="#0000ff" stroke-width="1.5"/>
<circle cx="1703.6" cy="135.8" r="8.1" fill="none" stroke="#0000ff" stroke-width="1.5"/>
<circle cx="1716.0" cy="114.6" r="8.1" fill="none" stroke="#0000ff" stroke-width="1.5"/>
<circle cx="1728.8" cy="92.3" r="8.1" fill="none" stroke="#0000ff" stroke-width="1.5"/>
<circle cx="1741.2" cy="76.9" r="8.1" fill="none" stroke="#0000ff" stroke-width="1.5"/>
<circle cx="1753.7" cy="90.0" r="8.1" fill="none" stroke="#0000ff" stroke-width="1.5"/>
<circle cx="1766.1" cy="121.8" r="8.1" fill="none" stroke="#0000ff" stroke-width="1.5"/>
<circle cx="1778.6" cy="159.7" r="8.1" fill="none" stroke="#0000ff" stroke-width="1.5"/>
<circle cx="1791.0" cy="207.9" r="8.1" fill="none" stroke="#0000ff" stroke-width="1.5"/>
<circle cx="1803.4" cy="256.0" r="8.1" fill="none" stroke="#0000ff" stroke-width="1.5"/>
<circle cx="1815.9" cy="300.5" r="8.1" fill="none" stroke="#0000ff" stroke-width="1.5"/>
<circle cx="1828.3" cy="330.6" r="8.1" fill="none" stroke="#0000ff" stroke-width="1.5"/>
<circle cx="1840.4" cy="347.6" r="8.1" fill="none" stroke="#0000ff" stroke-width="1.5"/>
<circle cx="1852.9" cy="342.1" r="8.1" fill="none" stroke="#0000ff" stroke-width="1.5"/>
<circle cx="1865.0" cy="327.3" r="8.1" fill="none" stroke="#0000ff" stroke-width="1.5"/>
<circle cx="1878.1" cy="297.9" r="8.1" fill="none" stroke="#0000ff" stroke-width="1.5"/>
<circle cx="1890.5" cy="251.1" r="8.1" fill="none" stroke="#0000ff" stroke-width="1.5"/>
<circle cx="1902.9" cy="207.2" r="8.1" fill="none" stroke="#0000ff" stroke-width="1.5"/>
<circle cx="1915.4" cy="155.8" r="8.1" fill="none" stroke="#0000ff" stroke-width="1.5"/>
<circle cx="1927.8" cy="112.6" r="8.1" fill="none" stroke="#0000ff" stroke-width="1.5"/>
<circle cx="1940.3" cy="78.6" r="8.1" fill="none" stroke="#0000ff" stroke-width="1.5"/>
<circle cx="1952.7" cy="63.2" r="8.1" fill="none" stroke="#0000ff" stroke-width="1.5"/>
<circle cx="1964.8" cy="63.8" r="8.1" fill="none" stroke="#0000ff" stroke-width="1.5"/>
<circle cx="1977.3" cy="91.7" r="8.1" fill="none" stroke="#0000ff" stroke-width="1.5"/>
<circle cx="1989.7" cy="116.2" r="8.1" fill="none" stroke="#0000ff" stroke-width="1.5"/>
<circle cx="2002.1" cy="162.0" r="8.1" fill="none" stroke="#0000ff" stroke-width="1.5"/>
<circle cx="2014.9" cy="209.5" r="8.1" fill="none" stroke="#0000ff" stroke-width="1.5"/>
<circle cx="2027.0" cy="280.9" r="8.1" fill="none" stroke="#0000ff" stroke-width="1.5"/>
<circle cx="2039.4" cy="315.2" r="8.1" fill="none" stroke="#0000ff" stroke-width="1.5"/>
<circle cx="2051.9" cy="339.4" r="8.1" fill="none" stroke="#0000ff" stroke-width="1.5"/>
<circle cx="2064.6" cy="366.6" r="8.1" fill="none" stroke="#0000ff" stroke-width="1.5"/>
</g>
<line x1="1688.7" y1="201.7" x2="1779.9" y2="201.7" stroke="#4848ff" stroke-width="1.3"/>
<polygon points="1680.7,201.7 1696.2,193.4 1691.5,201.7 1696.2,209.9" fill="#0000ff"/>
<polygon points="1787.9,201.7 1772.4,209.9 1777.1,201.7 1772.4,193.4" fill="#0000ff"/>
<rect x="1624.0" y="20.2" width="446.8" height="345.0" fill="none" stroke="#000" stroke-width="2.3"/>
<path d="M1679.8,365.2v-4.8" stroke="#000" stroke-width="2.1"/>
<path d="M1735.7,365.2v-8.2" stroke="#000" stroke-width="2.1"/>
<path d="M1791.6,365.2v-4.8" stroke="#000" stroke-width="2.1"/>
<path d="M1847.4,365.2v-8.2" stroke="#000" stroke-width="2.1"/>
<path d="M1903.2,365.2v-4.8" stroke="#000" stroke-width="2.1"/>
<path d="M1959.1,365.2v-8.2" stroke="#000" stroke-width="2.1"/>
<path d="M2015.0,365.2v-4.8" stroke="#000" stroke-width="2.1"/>
<path d="M1624.0,20.7h7.6M2070.8,20.7h-7.6" stroke="#000" stroke-width="2.1"/>
<text transform="matrix(0.5050 0 0 0.5320 1565.42 35.99)" font-size="100" fill="#000" >16</text>
<path d="M1624.0,138.6h7.6M2070.8,138.6h-7.6" stroke="#000" stroke-width="2.1"/>
<text transform="matrix(0.5050 0 0 0.5320 1564.66 154.16)" font-size="100" fill="#000" >14</text>
<path d="M1624.0,257.4h7.6M2070.8,257.4h-7.6" stroke="#000" stroke-width="2.1"/>
<text transform="matrix(0.5050 0 0 0.5320 1566.68 272.96)" font-size="100" fill="#000" >12</text>
<path d="M1624.0,79.3h4.6M2070.8,79.3h-4.6" stroke="#000" stroke-width="2.1"/>
<path d="M1624.0,198.0h4.6M2070.8,198.0h-4.6" stroke="#000" stroke-width="2.1"/>
<path d="M1624.0,316.8h4.6M2070.8,316.8h-4.6" stroke="#000" stroke-width="2.1"/>
<text transform="translate(1531.70 228.10) rotate(-90) scale(0.4733 0.5343) translate(-48.25 32.00) skewX(-9)" font-size="100" fill="#000" font-style="italic">V</text>
<text transform="translate(1536.85 169.60) rotate(-90) scale(0.5246 0.5278) translate(-69.50 24.00)" font-size="100" fill="#000" >(V)</text>
<path d="M1621.8,696.7 L1623.0,696.6 L1624.3,696.5 L1625.5,696.2 L1626.8,695.8 L1628.0,695.3 L1629.3,694.7 L1630.5,693.9 L1631.7,693.1 L1633.0,692.1 L1634.2,691.1 L1635.5,689.9 L1636.7,688.6 L1638.0,687.2 L1639.2,685.6 L1640.4,684.0 L1641.7,682.2 L1642.9,680.4 L1644.2,678.4 L1645.4,676.3 L1646.7,674.1 L1647.9,671.7 L1649.1,669.3 L1650.4,666.7 L1651.6,664.0 L1652.9,661.2 L1654.1,658.3 L1655.4,655.3 L1656.6,652.1 L1657.8,648.9 L1659.1,645.5 L1660.3,642.0 L1661.6,638.4 L1662.8,634.6 L1664.1,630.8 L1665.3,626.9 L1666.5,622.8 L1667.8,618.6 L1669.0,614.4 L1670.3,610.0 L1671.5,605.5 L1672.8,600.9 L1674.0,596.2 L1675.2,591.4 L1676.5,586.5 L1677.7,581.5 L1679.0,576.5 L1680.2,571.3 L1681.5,566.1 L1682.7,560.8 L1683.9,555.5 L1685.2,550.0 L1686.4,544.6 L1687.7,539.0 L1688.9,533.4 L1690.2,527.8 L1691.4,522.2 L1692.6,516.5 L1693.9,510.9 L1695.1,505.2 L1696.4,499.5 L1697.6,493.9 L1698.9,488.2 L1700.1,482.6 L1701.3,477.1 L1702.6,471.6 L1703.8,466.2 L1705.1,460.9 L1706.3,455.7 L1707.6,450.6 L1708.8,445.6 L1710.0,440.8 L1711.3,436.1 L1712.5,431.5 L1713.8,427.2 L1715.0,423.0 L1716.3,419.1 L1717.5,415.3 L1718.7,411.8 L1720.0,408.5 L1721.2,405.4 L1722.5,402.6 L1723.7,400.1 L1725.0,397.9 L1726.2,395.9 L1727.4,394.2 L1728.7,392.9 L1729.9,391.8 L1731.2,391.0 L1732.4,390.6 L1733.6,390.4 L1734.9,390.6 L1736.1,391.0 L1737.4,391.8 L1738.6,392.9 L1739.9,394.2 L1741.1,395.9 L1742.3,397.9 L1743.6,400.1 L1744.8,402.6 L1746.1,405.4 L1747.3,408.5 L1748.6,411.8 L1749.8,415.3 L1751.0,419.1 L1752.3,423.0 L1753.5,427.2 L1754.8,431.5 L1756.0,436.1 L1757.3,440.8 L1758.5,445.6 L1759.7,450.6 L1761.0,455.7 L1762.2,460.9 L1763.5,466.2 L1764.7,471.6 L1766.0,477.1 L1767.2,482.6 L1768.4,488.2 L1769.7,493.9 L1770.9,499.5 L1772.2,505.2 L1773.4,510.9 L1774.7,516.5 L1775.9,522.2 L1777.1,527.8 L1778.4,533.4 L1779.6,539.0 L1780.9,544.6 L1782.1,550.0 L1783.4,555.5 L1784.6,560.8 L1785.8,566.1 L1787.1,571.3 L1788.3,576.5 L1789.6,581.5 L1790.8,586.5 L1792.1,591.4 L1793.3,596.2 L1794.5,600.9 L1795.8,605.5 L1797.0,610.0 L1798.3,614.4 L1799.5,618.6 L1800.8,622.8 L1802.0,626.9 L1803.2,630.8 L1804.5,634.6 L1805.7,638.4 L1807.0,642.0 L1808.2,645.5 L1809.5,648.9 L1810.7,652.1 L1811.9,655.3 L1813.2,658.3 L1814.4,661.2 L1815.7,664.0 L1816.9,666.7 L1818.2,669.3 L1819.4,671.7 L1820.6,674.1 L1821.9,676.3 L1823.1,678.4 L1824.4,680.4 L1825.6,682.2 L1826.9,684.0 L1828.1,685.6 L1829.3,687.2 L1830.6,688.6 L1831.8,689.9 L1833.1,691.1 L1834.3,692.1 L1835.6,693.1 L1836.8,693.9 L1838.0,694.7 L1839.3,695.3 L1840.5,695.8 L1841.8,696.2 L1843.0,696.5 L1844.3,696.6 L1845.5,696.7 L1846.7,696.6 L1848.0,696.5 L1849.2,696.2 L1850.5,695.8 L1851.7,695.3 L1853.0,694.7 L1854.2,693.9 L1855.4,693.1 L1856.7,692.1 L1857.9,691.1 L1859.2,689.9 L1860.4,688.6 L1861.7,687.2 L1862.9,685.6 L1864.1,684.0 L1865.4,682.2 L1866.6,680.4 L1867.9,678.4 L1869.1,676.3 L1870.4,674.1 L1871.6,671.7 L1872.8,669.3 L1874.1,666.7 L1875.3,664.0 L1876.6,661.2 L1877.8,658.3 L1879.1,655.3 L1880.3,652.1 L1881.5,648.9 L1882.8,645.5 L1884.0,642.0 L1885.3,638.4 L1886.5,634.6 L1887.8,630.8 L1889.0,626.9 L1890.2,622.8 L1891.5,618.6 L1892.7,614.4 L1894.0,610.0 L1895.2,605.5 L1896.5,600.9 L1897.7,596.2 L1898.9,591.4 L1900.2,586.5 L1901.4,581.5 L1902.7,576.5 L1903.9,571.3 L1905.2,566.1 L1906.4,560.8 L1907.6,555.5 L1908.9,550.0 L1910.1,544.6 L1911.4,539.0 L1912.6,533.4 L1913.9,527.8 L1915.1,522.2 L1916.3,516.5 L1917.6,510.9 L1918.8,505.2 L1920.1,499.5 L1921.3,493.9 L1922.6,488.2 L1923.8,482.6 L1925.0,477.1 L1926.3,471.6 L1927.5,466.2 L1928.8,460.9 L1930.0,455.7 L1931.3,450.6 L1932.5,445.6 L1933.7,440.8 L1935.0,436.1 L1936.2,431.5 L1937.5,427.2 L1938.7,423.0 L1940.0,419.1 L1941.2,415.3 L1942.4,411.8 L1943.7,408.5 L1944.9,405.4 L1946.2,402.6 L1947.4,400.1 L1948.7,397.9 L1949.9,395.9 L1951.1,394.2 L1952.4,392.9 L1953.6,391.8 L1954.9,391.0 L1956.1,390.6 L1957.3,390.4 L1958.6,390.6 L1959.8,391.0 L1961.1,391.8 L1962.3,392.9 L1963.6,394.2 L1964.8,395.9 L1966.0,397.9 L1967.3,400.1 L1968.5,402.6 L1969.8,405.4 L1971.0,408.5 L1972.3,411.8 L1973.5,415.3 L1974.7,419.1 L1976.0,423.0 L1977.2,427.2 L1978.5,431.5 L1979.7,436.1 L1981.0,440.8 L1982.2,445.6 L1983.4,450.6 L1984.7,455.7 L1985.9,460.9 L1987.2,466.2 L1988.4,471.6 L1989.7,477.1 L1990.9,482.6 L1992.1,488.2 L1993.4,493.9 L1994.6,499.5 L1995.9,505.2 L1997.1,510.9 L1998.4,516.5 L1999.6,522.2 L2000.8,527.8 L2002.1,533.4 L2003.3,539.0 L2004.6,544.6 L2005.8,550.0 L2007.1,555.5 L2008.3,560.8 L2009.5,566.1 L2010.8,571.3 L2012.0,576.5 L2013.3,581.5 L2014.5,586.5 L2015.8,591.4 L2017.0,596.2 L2018.2,600.9 L2019.5,605.5 L2020.7,610.0 L2022.0,614.4 L2023.2,618.6 L2024.5,622.8 L2025.7,626.9 L2026.9,630.8 L2028.2,634.6 L2029.4,638.4 L2030.7,642.0 L2031.9,645.5 L2033.2,648.9 L2034.4,652.1 L2035.6,655.3 L2036.9,658.3 L2038.1,661.2 L2039.4,664.0 L2040.6,666.7 L2041.9,669.3 L2043.1,671.7 L2044.3,674.1 L2045.6,676.3 L2046.8,678.4 L2048.1,680.4 L2049.3,682.2 L2050.6,684.0 L2051.8,685.6 L2053.0,687.2 L2054.3,688.6 L2055.5,689.9 L2056.8,691.1 L2058.0,692.1 L2059.3,693.1 L2060.5,693.9 L2061.7,694.7 L2063.0,695.3 L2064.2,695.8 L2065.5,696.2 L2066.7,696.5 L2068.0,696.6 L2069.2,696.7" fill="none" stroke="#0000ff" stroke-width="3.5" stroke-linejoin="round"/>
<clipPath id="cp365"><rect x="1621.8" y="365.2" width="447.4" height="342.9"/></clipPath><g clip-path="url(#cp365)">
<circle cx="1624.4" cy="676.7" r="8.1" fill="none" stroke="#0000ff" stroke-width="1.5"/>
<circle cx="1648.9" cy="640.7" r="8.1" fill="none" stroke="#0000ff" stroke-width="1.5"/>
<circle cx="1661.4" cy="604.7" r="8.1" fill="none" stroke="#0000ff" stroke-width="1.5"/>
<circle cx="1673.8" cy="583.1" r="8.1" fill="none" stroke="#0000ff" stroke-width="1.5"/>
<circle cx="1686.3" cy="541.5" r="8.1" fill="none" stroke="#0000ff" stroke-width="1.5"/>
<circle cx="1698.4" cy="495.7" r="8.1" fill="none" stroke="#0000ff" stroke-width="1.5"/>
<circle cx="1711.1" cy="450.8" r="8.1" fill="none" stroke="#0000ff" stroke-width="1.5"/>
<circle cx="1723.9" cy="423.6" r="8.1" fill="none" stroke="#0000ff" stroke-width="1.5"/>
<circle cx="1736.0" cy="410.6" r="8.1" fill="none" stroke="#0000ff" stroke-width="1.5"/>
<circle cx="1748.4" cy="425.9" r="8.1" fill="none" stroke="#0000ff" stroke-width="1.5"/>
<circle cx="1773.3" cy="518.6" r="8.1" fill="none" stroke="#0000ff" stroke-width="1.5"/>
<circle cx="1785.8" cy="568.7" r="8.1" fill="none" stroke="#0000ff" stroke-width="1.5"/>
<circle cx="1798.2" cy="609.6" r="8.1" fill="none" stroke="#0000ff" stroke-width="1.5"/>
<circle cx="1810.3" cy="642.3" r="8.1" fill="none" stroke="#0000ff" stroke-width="1.5"/>
<circle cx="1822.7" cy="674.1" r="8.1" fill="none" stroke="#0000ff" stroke-width="1.5"/>
<circle cx="1835.2" cy="692.1" r="8.1" fill="none" stroke="#0000ff" stroke-width="1.5"/>
<circle cx="1847.0" cy="698.6" r="8.1" fill="none" stroke="#0000ff" stroke-width="1.5"/>
<circle cx="1860.1" cy="686.2" r="8.1" fill="none" stroke="#0000ff" stroke-width="1.5"/>
<circle cx="1872.2" cy="657.7" r="8.1" fill="none" stroke="#0000ff" stroke-width="1.5"/>
<circle cx="1884.6" cy="620.4" r="8.1" fill="none" stroke="#0000ff" stroke-width="1.5"/>
<circle cx="1897.7" cy="579.8" r="8.1" fill="none" stroke="#0000ff" stroke-width="1.5"/>
<circle cx="1909.8" cy="534.0" r="8.1" fill="none" stroke="#0000ff" stroke-width="1.5"/>
<circle cx="1922.3" cy="486.5" r="8.1" fill="none" stroke="#0000ff" stroke-width="1.5"/>
<circle cx="1934.7" cy="439.0" r="8.1" fill="none" stroke="#0000ff" stroke-width="1.5"/>
<circle cx="1946.8" cy="405.6" r="8.1" fill="none" stroke="#0000ff" stroke-width="1.5"/>
<circle cx="1959.2" cy="389.9" r="8.1" fill="none" stroke="#0000ff" stroke-width="1.5"/>
<circle cx="1971.4" cy="401.4" r="8.1" fill="none" stroke="#0000ff" stroke-width="1.5"/>
<circle cx="1984.5" cy="436.7" r="8.1" fill="none" stroke="#0000ff" stroke-width="1.5"/>
<circle cx="1996.9" cy="485.2" r="8.1" fill="none" stroke="#0000ff" stroke-width="1.5"/>
<circle cx="2009.3" cy="540.5" r="8.1" fill="none" stroke="#0000ff" stroke-width="1.5"/>
<circle cx="2021.8" cy="593.9" r="8.1" fill="none" stroke="#0000ff" stroke-width="1.5"/>
<circle cx="2033.9" cy="638.1" r="8.1" fill="none" stroke="#0000ff" stroke-width="1.5"/>
<circle cx="2046.3" cy="672.4" r="8.1" fill="none" stroke="#0000ff" stroke-width="1.5"/>
<circle cx="2058.8" cy="693.0" r="8.1" fill="none" stroke="#0000ff" stroke-width="1.5"/>
<circle cx="2069.6" cy="697.6" r="8.1" fill="none" stroke="#0000ff" stroke-width="1.5"/>
</g>
<line x1="1695.1" y1="543.0" x2="1774.1" y2="543.0" stroke="#1414ff" stroke-width="1.8"/>
<polygon points="1687.1,543.0 1702.6,534.8 1697.9,543.0 1702.6,551.2" fill="#0000ff"/>
<polygon points="1782.1,543.0 1766.6,551.2 1771.2,543.0 1766.6,534.8" fill="#0000ff"/>
<rect x="1621.8" y="365.2" width="447.4" height="342.9" fill="none" stroke="#000" stroke-width="2.3"/>
<path d="M1677.7,708.1v-4.8" stroke="#000" stroke-width="2.1"/>
<path d="M1733.6,708.1v-8.2" stroke="#000" stroke-width="2.1"/>
<path d="M1789.6,708.1v-4.8" stroke="#000" stroke-width="2.1"/>
<path d="M1845.5,708.1v-2.4" stroke="#000" stroke-width="2.1"/>
<path d="M1901.4,708.1v-4.8" stroke="#000" stroke-width="2.1"/>
<path d="M1957.3,708.1v-8.2" stroke="#000" stroke-width="2.1"/>
<path d="M2013.3,708.1v-4.8" stroke="#000" stroke-width="2.1"/>
<path d="M1621.8,366.9h7.6M2069.2,366.9h-7.6" stroke="#000" stroke-width="2.1"/>
<text transform="matrix(0.5200 0 0 0.5350 1563.18 382.55)" font-size="100" fill="#000" >24</text>
<path d="M1621.8,465.9h7.6M2069.2,465.9h-7.6" stroke="#000" stroke-width="2.1"/>
<text transform="matrix(0.5200 0 0 0.5350 1564.48 481.42)" font-size="100" fill="#000" >20</text>
<path d="M1621.8,564.4h7.6M2069.2,564.4h-7.6" stroke="#000" stroke-width="2.1"/>
<text transform="matrix(0.5200 0 0 0.5350 1563.96 579.79)" font-size="100" fill="#000" >16</text>
<path d="M1621.8,664.0h7.6M2069.2,664.0h-7.6" stroke="#000" stroke-width="2.1"/>
<text transform="matrix(0.5200 0 0 0.5350 1565.26 679.65)" font-size="100" fill="#000" >12</text>
<path d="M1621.8,416.2h4.6M2069.2,416.2h-4.6" stroke="#000" stroke-width="2.1"/>
<path d="M1621.8,515.1h4.6M2069.2,515.1h-4.6" stroke="#000" stroke-width="2.1"/>
<path d="M1621.8,614.4h4.6M2069.2,614.4h-4.6" stroke="#000" stroke-width="2.1"/>
<text transform="translate(1530.60 570.90) rotate(-90) scale(0.4733 0.5343) translate(-48.25 32.00) skewX(-9)" font-size="100" fill="#000" font-style="italic">V</text>
<text transform="translate(1535.75 512.40) rotate(-90) scale(0.5246 0.5278) translate(-69.50 24.00)" font-size="100" fill="#000" >(V)</text>
<path d="M1623.7,1041.5 L1624.9,1041.5 L1626.2,1041.3 L1627.4,1041.1 L1628.7,1040.8 L1629.9,1040.5 L1631.1,1040.0 L1632.4,1039.5 L1633.6,1038.9 L1634.9,1038.1 L1636.1,1037.4 L1637.3,1036.5 L1638.6,1035.5 L1639.8,1034.5 L1641.1,1033.3 L1642.3,1032.1 L1643.5,1030.8 L1644.8,1029.4 L1646.0,1027.9 L1647.3,1026.3 L1648.5,1024.6 L1649.7,1022.8 L1651.0,1021.0 L1652.2,1019.0 L1653.5,1016.9 L1654.7,1014.7 L1655.9,1012.5 L1657.2,1010.1 L1658.4,1007.6 L1659.7,1005.0 L1660.9,1002.4 L1662.1,999.6 L1663.4,996.7 L1664.6,993.6 L1665.9,990.5 L1667.1,987.3 L1668.3,983.9 L1669.6,980.5 L1670.8,976.9 L1672.1,973.2 L1673.3,969.4 L1674.5,965.4 L1675.8,961.4 L1677.0,957.2 L1678.3,952.9 L1679.5,948.5 L1680.7,944.0 L1682.0,939.4 L1683.2,934.6 L1684.5,929.8 L1685.7,924.8 L1686.9,919.7 L1688.2,914.5 L1689.4,909.2 L1690.7,903.9 L1691.9,898.4 L1693.1,892.8 L1694.4,887.2 L1695.6,881.5 L1696.9,875.7 L1698.1,869.9 L1699.3,864.0 L1700.6,858.1 L1701.8,852.1 L1703.1,846.2 L1704.3,840.3 L1705.5,834.3 L1706.8,828.5 L1708.0,822.6 L1709.3,816.8 L1710.5,811.1 L1711.7,805.5 L1713.0,800.1 L1714.2,794.7 L1715.5,789.6 L1716.7,784.6 L1717.9,779.8 L1719.2,775.2 L1720.4,770.9 L1721.7,766.8 L1722.9,763.0 L1724.1,759.6 L1725.4,756.4 L1726.6,753.6 L1727.9,751.1 L1729.1,748.9 L1730.3,747.2 L1731.6,745.8 L1732.8,744.8 L1734.1,744.2 L1735.3,744.0 L1736.5,744.2 L1737.8,744.8 L1739.0,745.8 L1740.3,747.2 L1741.5,748.9 L1742.7,751.1 L1744.0,753.6 L1745.2,756.4 L1746.5,759.6 L1747.7,763.0 L1748.9,766.8 L1750.2,770.9 L1751.4,775.2 L1752.7,779.8 L1753.9,784.6 L1755.1,789.6 L1756.4,794.7 L1757.6,800.1 L1758.9,805.5 L1760.1,811.1 L1761.3,816.8 L1762.6,822.6 L1763.8,828.5 L1765.1,834.3 L1766.3,840.3 L1767.5,846.2 L1768.8,852.1 L1770.0,858.1 L1771.3,864.0 L1772.5,869.9 L1773.7,875.7 L1775.0,881.5 L1776.2,887.2 L1777.5,892.8 L1778.7,898.4 L1779.9,903.9 L1781.2,909.2 L1782.4,914.5 L1783.7,919.7 L1784.9,924.8 L1786.1,929.8 L1787.4,934.6 L1788.6,939.4 L1789.9,944.0 L1791.1,948.5 L1792.3,952.9 L1793.6,957.2 L1794.8,961.4 L1796.1,965.4 L1797.3,969.4 L1798.5,973.2 L1799.8,976.9 L1801.0,980.5 L1802.3,983.9 L1803.5,987.3 L1804.7,990.5 L1806.0,993.6 L1807.2,996.7 L1808.5,999.6 L1809.7,1002.4 L1810.9,1005.0 L1812.2,1007.6 L1813.4,1010.1 L1814.7,1012.5 L1815.9,1014.7 L1817.1,1016.9 L1818.4,1019.0 L1819.6,1021.0 L1820.9,1022.8 L1822.1,1024.6 L1823.3,1026.3 L1824.6,1027.9 L1825.8,1029.4 L1827.1,1030.8 L1828.3,1032.1 L1829.5,1033.3 L1830.8,1034.5 L1832.0,1035.5 L1833.3,1036.5 L1834.5,1037.4 L1835.7,1038.1 L1837.0,1038.9 L1838.2,1039.5 L1839.5,1040.0 L1840.7,1040.5 L1841.9,1040.8 L1843.2,1041.1 L1844.4,1041.3 L1845.7,1041.5 L1846.9,1041.5 L1848.1,1041.5 L1849.4,1041.3 L1850.6,1041.1 L1851.9,1040.8 L1853.1,1040.5 L1854.3,1040.0 L1855.6,1039.5 L1856.8,1038.9 L1858.1,1038.1 L1859.3,1037.4 L1860.5,1036.5 L1861.8,1035.5 L1863.0,1034.5 L1864.3,1033.3 L1865.5,1032.1 L1866.7,1030.8 L1868.0,1029.4 L1869.2,1027.9 L1870.5,1026.3 L1871.7,1024.6 L1872.9,1022.8 L1874.2,1021.0 L1875.4,1019.0 L1876.7,1016.9 L1877.9,1014.7 L1879.1,1012.5 L1880.4,1010.1 L1881.6,1007.6 L1882.9,1005.0 L1884.1,1002.4 L1885.3,999.6 L1886.6,996.7 L1887.8,993.6 L1889.1,990.5 L1890.3,987.3 L1891.5,983.9 L1892.8,980.5 L1894.0,976.9 L1895.3,973.2 L1896.5,969.4 L1897.7,965.4 L1899.0,961.4 L1900.2,957.2 L1901.5,952.9 L1902.7,948.5 L1903.9,944.0 L1905.2,939.4 L1906.4,934.6 L1907.7,929.8 L1908.9,924.8 L1910.1,919.7 L1911.4,914.5 L1912.6,909.2 L1913.9,903.9 L1915.1,898.4 L1916.3,892.8 L1917.6,887.2 L1918.8,881.5 L1920.1,875.7 L1921.3,869.9 L1922.5,864.0 L1923.8,858.1 L1925.0,852.1 L1926.3,846.2 L1927.5,840.3 L1928.7,834.3 L1930.0,828.5 L1931.2,822.6 L1932.5,816.8 L1933.7,811.1 L1934.9,805.5 L1936.2,800.1 L1937.4,794.7 L1938.7,789.6 L1939.9,784.6 L1941.1,779.8 L1942.4,775.2 L1943.6,770.9 L1944.9,766.8 L1946.1,763.0 L1947.3,759.6 L1948.6,756.4 L1949.8,753.6 L1951.1,751.1 L1952.3,748.9 L1953.5,747.2 L1954.8,745.8 L1956.0,744.8 L1957.3,744.2 L1958.5,744.0 L1959.7,744.2 L1961.0,744.8 L1962.2,745.8 L1963.5,747.2 L1964.7,748.9 L1965.9,751.1 L1967.2,753.6 L1968.4,756.4 L1969.7,759.6 L1970.9,763.0 L1972.1,766.8 L1973.4,770.9 L1974.6,775.2 L1975.9,779.8 L1977.1,784.6 L1978.3,789.6 L1979.6,794.7 L1980.8,800.1 L1982.1,805.5 L1983.3,811.1 L1984.5,816.8 L1985.8,822.6 L1987.0,828.5 L1988.3,834.3 L1989.5,840.3 L1990.7,846.2 L1992.0,852.1 L1993.2,858.1 L1994.5,864.0 L1995.7,869.9 L1996.9,875.7 L1998.2,881.5 L1999.4,887.2 L2000.7,892.8 L2001.9,898.4 L2003.1,903.9 L2004.4,909.2 L2005.6,914.5 L2006.9,919.7 L2008.1,924.8 L2009.3,929.8 L2010.6,934.6 L2011.8,939.4 L2013.1,944.0 L2014.3,948.5 L2015.5,952.9 L2016.8,957.2 L2018.0,961.4 L2019.3,965.4 L2020.5,969.4 L2021.7,973.2 L2023.0,976.9 L2024.2,980.5 L2025.5,983.9 L2026.7,987.3 L2027.9,990.5 L2029.2,993.6 L2030.4,996.7 L2031.7,999.6 L2032.9,1002.4 L2034.1,1005.0 L2035.4,1007.6 L2036.6,1010.1 L2037.9,1012.5 L2039.1,1014.7 L2040.3,1016.9 L2041.6,1019.0 L2042.8,1021.0 L2044.1,1022.8 L2045.3,1024.6 L2046.5,1026.3 L2047.8,1027.9 L2049.0,1029.4 L2050.3,1030.8 L2051.5,1032.1 L2052.7,1033.3 L2054.0,1034.5 L2055.2,1035.5 L2056.5,1036.5 L2057.7,1037.4 L2058.9,1038.1 L2060.2,1038.9 L2061.4,1039.5 L2062.7,1040.0 L2063.9,1040.5 L2065.1,1040.8 L2066.4,1041.1 L2067.6,1041.3 L2068.9,1041.5 L2070.1,1041.5" fill="none" stroke="#0000ff" stroke-width="3.5" stroke-linejoin="round"/>
<clipPath id="cp708"><rect x="1623.7" y="708.1" width="446.4" height="343.9"/></clipPath><g clip-path="url(#cp708)">
<circle cx="1635.8" cy="1036.8" r="8.1" fill="none" stroke="#0000ff" stroke-width="1.5"/>
<circle cx="1660.0" cy="1003.8" r="8.1" fill="none" stroke="#0000ff" stroke-width="1.5"/>
<circle cx="1672.4" cy="978.0" r="8.1" fill="none" stroke="#0000ff" stroke-width="1.5"/>
<circle cx="1685.1" cy="939.1" r="8.1" fill="none" stroke="#0000ff" stroke-width="1.5"/>
<circle cx="1697.8" cy="885.5" r="8.1" fill="none" stroke="#0000ff" stroke-width="1.5"/>
<circle cx="1710.1" cy="823.1" r="8.1" fill="none" stroke="#0000ff" stroke-width="1.5"/>
<circle cx="1722.4" cy="774.3" r="8.1" fill="none" stroke="#0000ff" stroke-width="1.5"/>
<circle cx="1735.1" cy="751.6" r="8.1" fill="none" stroke="#0000ff" stroke-width="1.5"/>
<circle cx="1747.4" cy="760.8" r="8.1" fill="none" stroke="#0000ff" stroke-width="1.5"/>
<circle cx="1760.1" cy="805.2" r="8.1" fill="none" stroke="#0000ff" stroke-width="1.5"/>
<circle cx="1772.8" cy="874.7" r="8.1" fill="none" stroke="#0000ff" stroke-width="1.5"/>
<circle cx="1784.7" cy="932.3" r="8.1" fill="none" stroke="#0000ff" stroke-width="1.5"/>
<circle cx="1797.1" cy="975.2" r="8.1" fill="none" stroke="#0000ff" stroke-width="1.5"/>
<circle cx="1809.4" cy="1005.0" r="8.1" fill="none" stroke="#0000ff" stroke-width="1.5"/>
<circle cx="1821.7" cy="1023.7" r="8.1" fill="none" stroke="#0000ff" stroke-width="1.5"/>
<circle cx="1834.4" cy="1036.8" r="8.1" fill="none" stroke="#0000ff" stroke-width="1.5"/>
<circle cx="1846.7" cy="1042.3" r="8.1" fill="none" stroke="#0000ff" stroke-width="1.5"/>
<circle cx="1859.4" cy="1037.6" r="8.1" fill="none" stroke="#0000ff" stroke-width="1.5"/>
<circle cx="1871.7" cy="1023.7" r="8.1" fill="none" stroke="#0000ff" stroke-width="1.5"/>
<circle cx="1895.9" cy="972.8" r="8.1" fill="none" stroke="#0000ff" stroke-width="1.5"/>
<circle cx="1909.1" cy="930.3" r="8.1" fill="none" stroke="#0000ff" stroke-width="1.5"/>
<circle cx="1933.7" cy="809.2" r="8.1" fill="none" stroke="#0000ff" stroke-width="1.5"/>
<circle cx="1946.0" cy="754.4" r="8.1" fill="none" stroke="#0000ff" stroke-width="1.5"/>
<circle cx="1958.7" cy="729.8" r="8.1" fill="none" stroke="#0000ff" stroke-width="1.5"/>
<circle cx="1970.6" cy="737.7" r="8.1" fill="none" stroke="#0000ff" stroke-width="1.5"/>
<circle cx="1982.9" cy="772.3" r="8.1" fill="none" stroke="#0000ff" stroke-width="1.5"/>
<circle cx="2008.3" cy="894.6" r="8.1" fill="none" stroke="#0000ff" stroke-width="1.5"/>
<circle cx="2020.3" cy="956.6" r="8.1" fill="none" stroke="#0000ff" stroke-width="1.5"/>
<circle cx="2032.6" cy="997.9" r="8.1" fill="none" stroke="#0000ff" stroke-width="1.5"/>
<circle cx="2044.9" cy="1017.7" r="8.1" fill="none" stroke="#0000ff" stroke-width="1.5"/>
<circle cx="2058.0" cy="1032.4" r="8.1" fill="none" stroke="#0000ff" stroke-width="1.5"/>
<circle cx="2068.7" cy="1040.7" r="8.1" fill="none" stroke="#0000ff" stroke-width="1.5"/>
</g>
<line x1="1700.9" y1="892.1" x2="1770.6" y2="892.1" stroke="#4848ff" stroke-width="1.3"/>
<polygon points="1692.9,892.1 1708.4,883.9 1703.8,892.1 1708.4,900.4" fill="#0000ff"/>
<polygon points="1778.6,892.1 1763.1,900.4 1767.8,892.1 1763.1,883.9" fill="#0000ff"/>
<rect x="1623.7" y="708.1" width="446.4" height="343.9" fill="none" stroke="#000" stroke-width="2.3"/>
<path d="M1679.5,1052.0v-4.8" stroke="#000" stroke-width="2.1"/>
<path d="M1735.3,1052.0v-8.2" stroke="#000" stroke-width="2.1"/>
<path d="M1791.1,1052.0v-4.8" stroke="#000" stroke-width="2.1"/>
<path d="M1846.9,1052.0v-2.4" stroke="#000" stroke-width="2.1"/>
<path d="M1902.7,1052.0v-4.8" stroke="#000" stroke-width="2.1"/>
<path d="M1958.5,1052.0v-8.2" stroke="#000" stroke-width="2.1"/>
<path d="M2014.3,1052.0v-4.8" stroke="#000" stroke-width="2.1"/>
<path d="M1623.7,762.3h7.6M2070.1,762.3h-7.6" stroke="#000" stroke-width="2.1"/>
<text transform="matrix(0.5200 0 0 0.5350 1563.96 777.69)" font-size="100" fill="#000" >36</text>
<path d="M1623.7,844.7h7.6M2070.1,844.7h-7.6" stroke="#000" stroke-width="2.1"/>
<text transform="matrix(0.5200 0 0 0.5350 1564.48 860.22)" font-size="100" fill="#000" >30</text>
<path d="M1623.7,927.9h7.6M2070.1,927.9h-7.6" stroke="#000" stroke-width="2.1"/>
<text transform="matrix(0.5200 0 0 0.5350 1563.18 943.55)" font-size="100" fill="#000" >24</text>
<path d="M1623.7,1010.3h7.6M2070.1,1010.3h-7.6" stroke="#000" stroke-width="2.1"/>
<text transform="matrix(0.5200 0 0 0.5350 1564.48 1025.82)" font-size="100" fill="#000" >18</text>
<path d="M1623.7,721.5h4.6M2070.1,721.5h-4.6" stroke="#000" stroke-width="2.1"/>
<path d="M1623.7,803.3h4.6M2070.1,803.3h-4.6" stroke="#000" stroke-width="2.1"/>
<path d="M1623.7,886.4h4.6M2070.1,886.4h-4.6" stroke="#000" stroke-width="2.1"/>
<path d="M1623.7,969.3h4.6M2070.1,969.3h-4.6" stroke="#000" stroke-width="2.1"/>
<text transform="translate(1531.70 914.30) rotate(-90) scale(0.4733 0.5343) translate(-48.25 32.00) skewX(-9)" font-size="100" fill="#000" font-style="italic">V</text>
<text transform="translate(1536.85 855.80) rotate(-90) scale(0.5246 0.5278) translate(-69.50 24.00)" font-size="100" fill="#000" >(V)</text>
<text transform="matrix(0.5619 0 0 0.5185 1607.75 1092.38)" font-size="100" fill="#000" >0</text>
<text transform="matrix(0.5017 0 0 0.4896 1704.95 1094.11)" font-size="100" fill="#000" >π/2</text>
<text transform="matrix(0.4991 0 0 0.4910 1919.60 1093.81)" font-size="100" fill="#000" >3π/2</text>
<text transform="matrix(0.4991 0 0 0.4910 1833.55 1093.80)" font-size="100" fill="#000" >π</text>
<text transform="matrix(0.4991 0 0 0.4910 2050.65 1093.80)" font-size="100" fill="#000" >2π</text>
<text transform="matrix(0.5790 0 0 0.5600 1829.20 1167.10)" font-size="100" fill="#000" font-style="italic">θ</text>
</svg>
</body></html>
